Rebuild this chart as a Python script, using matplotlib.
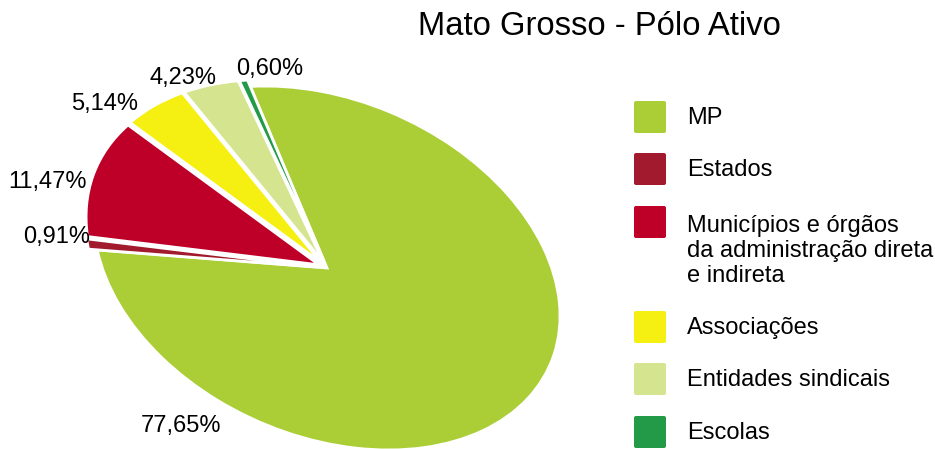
import matplotlib
matplotlib.use("Agg")
import matplotlib.pyplot as plt
from matplotlib.transforms import Affine2D
from matplotlib.patches import FancyBboxPatch

# ---- data ----
categories = ["MP", "Estados", "Municípios e órgãos\nda administração direta\ne indireta",
              "Associações", "Entidades sindicais", "Escolas"]
values = [77.65, 0.91, 11.47, 5.14, 4.23, 0.60]
value_labels = ["77,65%", "0,91%", "11,47%", "5,14%", "4,23%", "0,60%"]
title = "Mato Grosso - Pólo Ativo"

# ---- style / layout ----
colors = ["#ABCE37", "#A11A2E", "#BE0028", "#F5F012", "#D5E48E", "#229A48"]
explode = [0.0, 0.038, 0.035, 0.035, 0.035, 0.035]
label_xy = [(181, 432), (57, 243), (48, 188), (105, 110), (183, 84), (270, 75)]
legend_box_y = [117, 169, 222, 327, 379, 432]
legend_text_y = [118, 170, 251, 328, 380, 433]
font = ["Liberation Sans", "DejaVu Sans"]

W, H = 935, 449
fig = plt.figure(figsize=(W / 100, H / 100), dpi=100)
ax = fig.add_axes([0, 0, 1, 1])

wedges, _ = ax.pie(values, colors=colors, explode=explode, startangle=109.2,
                   counterclock=False,
                   wedgeprops=dict(edgecolor="white", linewidth=2.0))
ax.set_aspect("auto")
ax.set_xlim(0, W)
ax.set_ylim(H, 0)
ax.axis("off")

# tilted elliptical pie: unit circle -> image pixel space
aff = Affine2D.from_values(233, 48.1, 0, -175.5, 327, 268)
for w in wedges:
    w.set_transform(aff + ax.transData)
    w.set_clip_on(False)

for (x, y), t in zip(label_xy, value_labels):
    ax.text(x, y, t, ha="center", va="baseline", fontsize=17, family=font, color="black")

ax.text(599, 35, title, ha="center", va="baseline", fontsize=23.6, family=font, color="black")

# legend
for c, lab, yb, yt in zip(colors, categories, legend_box_y, legend_text_y):
    box = FancyBboxPatch((634, yb - 16), 32, 32, boxstyle="round,pad=0,rounding_size=2",
                         facecolor=c, edgecolor="none", transform=ax.transData, clip_on=False)
    ax.add_patch(box)
    ax.text(687, yt, lab, ha="left", va="center",
            fontsize=17, family=font, color="black", linespacing=1.2)

fig.savefig("out.png", dpi=100)
